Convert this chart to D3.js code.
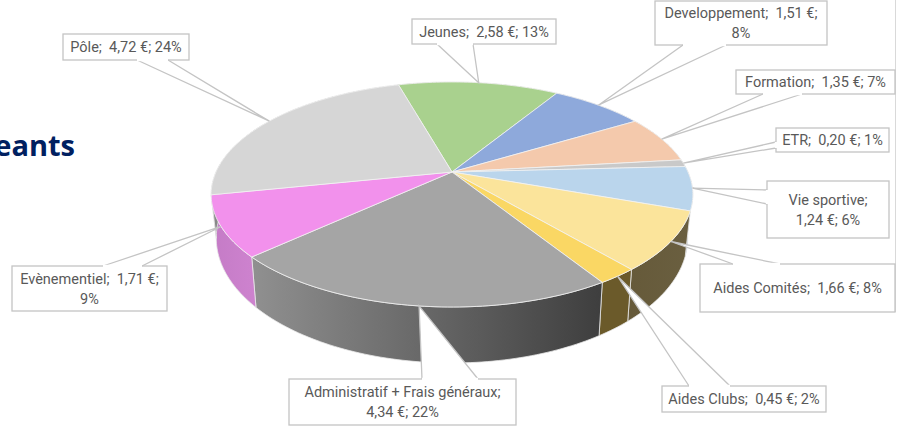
<!DOCTYPE html>
<html lang="fr">

<head>
  <meta charset="UTF-8" />
  <title>Camembert</title>
  <script src="https://d3js.org/d3.v7.min.js"></script>
  <style>
    body {
      margin: 0;
      background: #fff;
    }

    svg {
      display: block;
    }

    .callout text {
      font-family: Roboto, sans-serif;
      font-size: 14.5px;
      fill: #595959;
      text-anchor: middle;
      white-space: pre;
    }

    #title {
      font-family: "Open Sans", sans-serif;
      font-weight: 700;
      font-size: 29px;
      fill: #002060;
      text-anchor: end;
    }
  </style>
</head>

<body>
  <script>
    //data, clockwise from the top
    const categories = ['Jeunes', 'Developpement', 'Formation', 'ETR', 'Vie sportive', 'Aides Comités', 'Aides Clubs', 'Administratif + Frais généraux', 'Evènementiel', 'Pôle'];
    const values = [2.58, 1.51, 1.35, 0.20, 1.24, 1.66, 0.45, 4.34, 1.71, 4.72];
    const percents = [13, 8, 7, 1, 6, 8, 2, 22, 9, 24];
    //how many parts of "name; amount; percent" stay on the first line
    const firstLineParts = [3, 2, 3, 3, 1, 3, 3, 1, 2, 3];

    //colours
    const topColors = ['#a9d18e', '#8ea9db', '#f4c9ac', '#c9c9c9', '#bad5ec', '#fbe49b', '#fad764', '#a5a5a5', '#f291ec', '#d6d6d6'];
    const wallFrom = ['#6a8558', '#5a6b8b', '#9b806d', '#808080', '#76879a', '#665a3a', '#6b5a2a', '#909090', '#c47bc6', '#888888'];
    const wallTo = ['#6a8558', '#5a6b8b', '#9b806d', '#808080', '#76879a', '#6a5f40', '#6b5a2a', '#3e3e3e', '#cd82ce', '#888888'];

    //callout boxes [x, y, w, h], tail base points on the box edge, tail tip shift in degrees
    const boxes = [[412, 19, 144, 25], [655, 1, 172, 44], [736, 70, 159, 24], [776, 128, 113, 24], [767, 181, 122, 57], [700, 264, 195, 48], [662, 386, 164, 26], [289, 379, 227, 46], [12, 266, 155, 45], [63, 34, 126, 26]];
    const tails = [[[437, 44], [473, 44]], [[683, 45], [726, 45]], [[763, 94], [802, 94]], [[776, 142], [776, 148]], [[767, 190], [767, 204]], [[733, 264], [780, 264]], [[689, 386], [730, 386]], [[422, 379], [478, 379]], [[103, 266], [142, 266]], [[137, 60], [168, 60]]];
    const tipShift = [0, 0, 0, 0, 0, 0, 0, -1.2, 0, 0];

    const width = 897, height = 429;
    const cx = 452;

    //the disc is seen in perspective, k is the strength of it
    const k = 0.2;
    const topPlane = { y0: 172, R: 236, S: 108 };
    const bottomPlane = { y0: 213, R: 231, S: 120 };

    const xScale = p => d3.scaleLinear().domain([-1, 1]).range([cx - p.R, cx + p.R]);
    const yScale = p => d3.scaleLinear().domain([-1, 1]).range([p.y0 - p.S, p.y0 + p.S]);

    function project(angle, plane) {
      const u = Math.sin(angle), v = -Math.cos(angle);
      const w = 1 - k * v;
      return [xScale(plane)(u / w), yScale(plane)(v / w)];
    }

    function arcPoints(a0, a1, plane) {
      const n = Math.max(2, Math.ceil((a1 - a0) / 0.02));
      return d3.range(n + 1).map(i => project(a0 + (a1 - a0) * i / n, plane));
    }

    const startDeg = -15.7;
    const pie = d3.pie().sort(null)
      .startAngle(startDeg * Math.PI / 180)
      .endAngle((startDeg + 360) * Math.PI / 180);
    const slices = pie(values);
    const line = d3.line();

    const euro = d3.formatLocale({ decimal: ',', thousands: ' ', grouping: [3], currency: ['', ' €'] }).format('$.2f');

    const svg = d3.select('body').append('svg')
      .attr('width', width)
      .attr('height', height);

    svg.append('text')
      .attr('id', 'title')
      .attr('x', 75)
      .attr('y', 156)
      .text('eants');

    //frame of the chart area on the right
    svg.append('line')
      .attr('x1', 895.5).attr('x2', 895.5)
      .attr('y1', 0).attr('y2', 312)
      .attr('stroke', '#d9d9d9');

    //gradients for the walls
    const defs = svg.append('defs');
    slices.forEach((s, i) => {
      const pts = arcPoints(s.startAngle, s.endAngle, topPlane);
      const g = defs.append('linearGradient')
        .attr('id', 'wall' + i)
        .attr('gradientUnits', 'userSpaceOnUse')
        .attr('x1', d3.min(pts, p => p[0]))
        .attr('x2', d3.max(pts, p => p[0]))
        .attr('y1', 0).attr('y2', 0);
      g.append('stop').attr('offset', 0).attr('stop-color', wallFrom[i]);
      g.append('stop').attr('offset', 1).attr('stop-color', wallTo[i]);
    });

    //walls first, the top surface hides the back ones
    svg.append('g').selectAll('path')
      .data(slices)
      .join('path')
      .attr('d', s => {
        const top = arcPoints(s.startAngle, s.endAngle, topPlane);
        const bottom = arcPoints(s.startAngle, s.endAngle, bottomPlane).reverse();
        return line(top.concat(bottom)) + 'Z';
      })
      .attr('fill', (s, i) => `url(#wall${i})`)
      .attr('stroke', '#e8e8e8')
      .attr('stroke-width', 0.8);

    //top surface
    svg.append('g').selectAll('path')
      .data(slices)
      .join('path')
      .attr('d', s => {
        const centre = [cx, topPlane.y0];
        return line([centre].concat(arcPoints(s.startAngle, s.endAngle, topPlane))) + 'Z';
      })
      .attr('fill', (s, i) => topColors[i])
      .attr('stroke', '#f2f2f2')
      .attr('stroke-width', 0.8);

    //callouts
    const callout = svg.append('g').selectAll('g')
      .data(slices)
      .join('g')
      .attr('class', 'callout');

    callout.append('rect')
      .attr('x', (s, i) => boxes[i][0])
      .attr('y', (s, i) => boxes[i][1])
      .attr('width', (s, i) => boxes[i][2])
      .attr('height', (s, i) => boxes[i][3])
      .attr('fill', '#fff')
      .attr('stroke', '#c4c4c4')
      .attr('stroke-width', 1.3);

    callout.append('path')
      .attr('d', (s, i) => {
        const tip = project((s.startAngle + s.endAngle) / 2 + tipShift[i] * Math.PI / 180, topPlane);
        return line([tails[i][0], tip, tails[i][1]]);
      })
      .attr('fill', '#fff')
      .attr('stroke', '#c4c4c4')
      .attr('stroke-width', 1.3);

    //opening between the box and its tail
    callout.append('path')
      .attr('d', (s, i) => line(tails[i]))
      .attr('stroke', '#fff')
      .attr('stroke-width', 2.4);

    callout.each(function (s, i) {
      const parts = [categories[i] + ';', euro(values[i]) + ';', percents[i] + '%'];
      const cut = firstLineParts[i];
      const lines = [parts.slice(0, cut), parts.slice(cut)]
        .filter(l => l.length)
        .map((l, n) => n == 0 ? l.join('  ').replace(/€;  /, '€; ') : l.join(' '));
      const b = boxes[i];
      const midY = b[1] + b[3] / 2;
      const lh = 20;
      d3.select(this).selectAll('text')
        .data(lines)
        .join('text')
        .attr('x', b[0] + b[2] / 2)
        .attr('y', (d, n) => midY + 5 + (n - (lines.length - 1) / 2) * lh)
        .text(d => d);
    });
  </script>
</body>

</html>
